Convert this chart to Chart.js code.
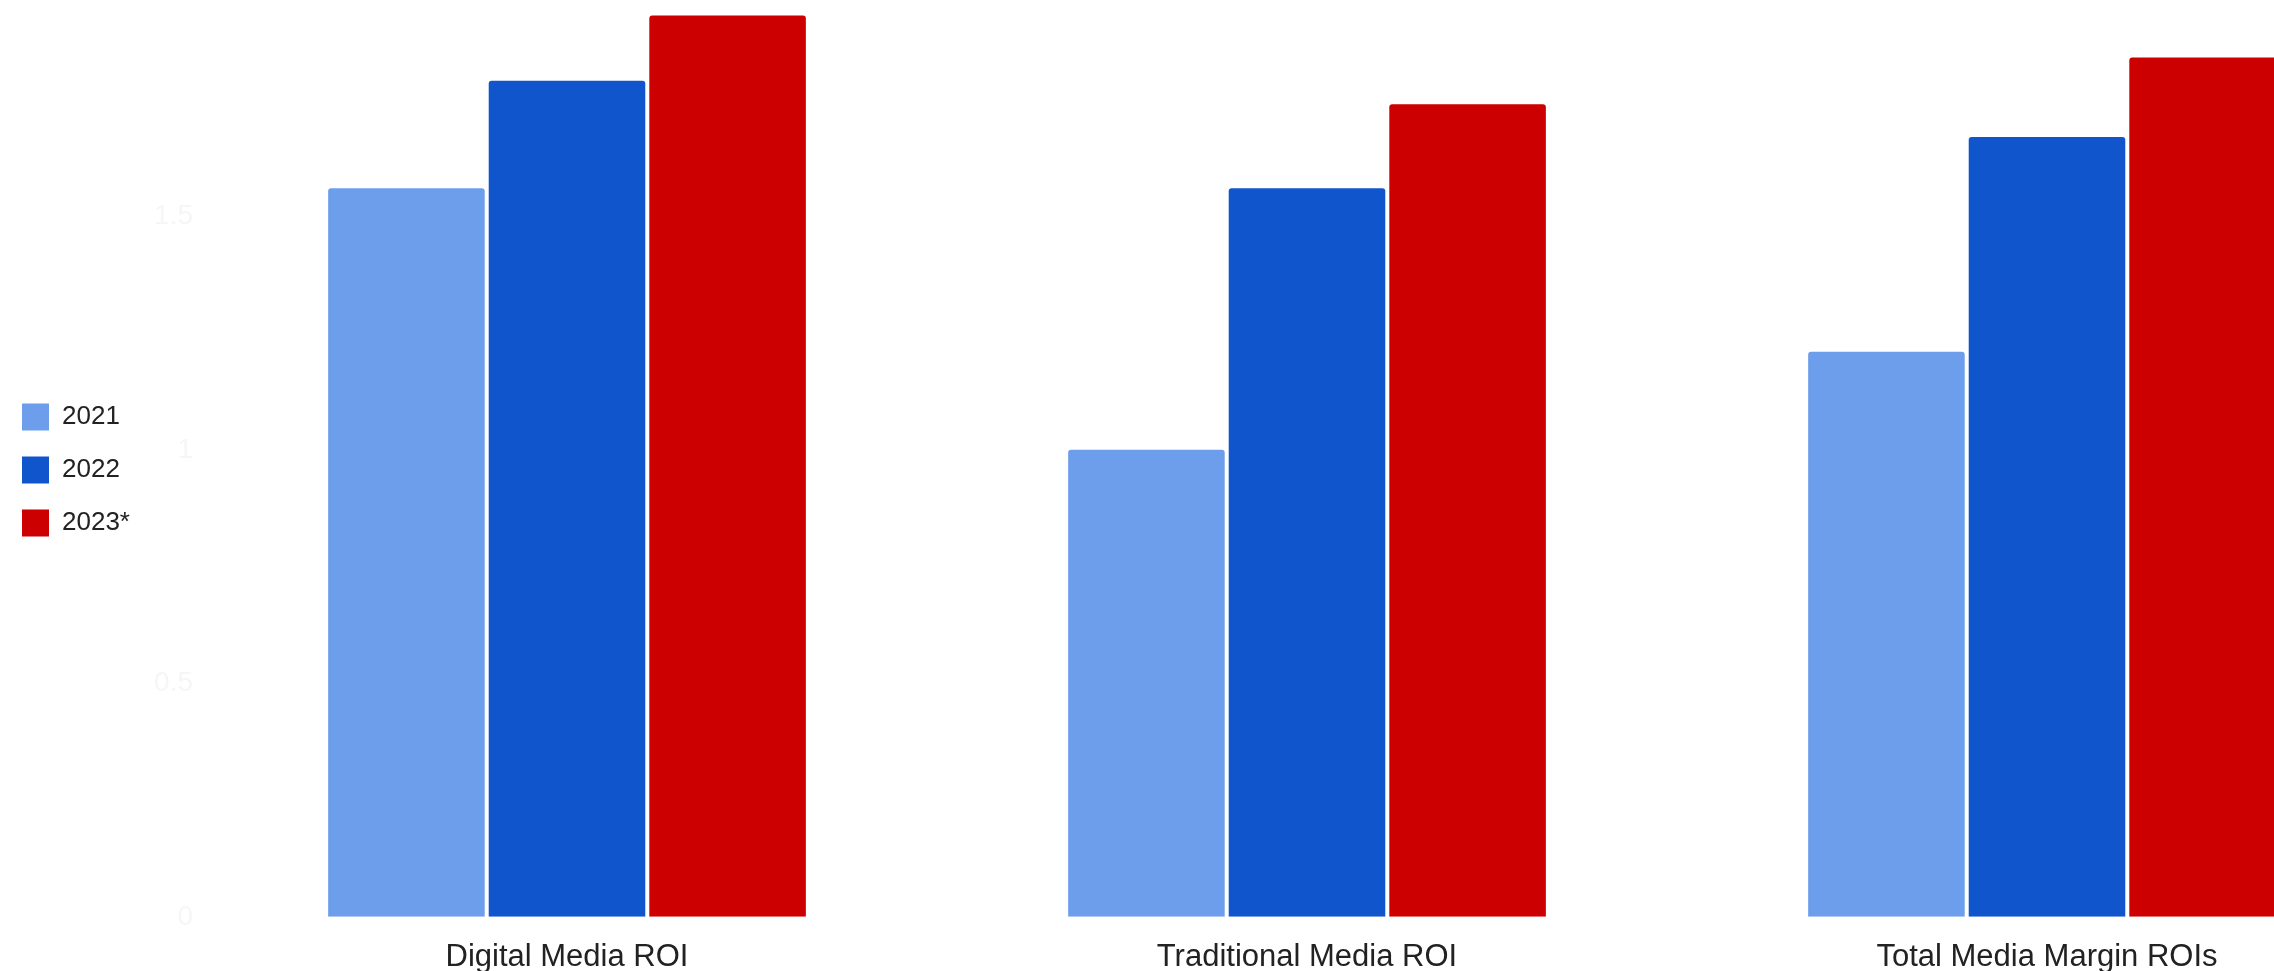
<!DOCTYPE html>
<html>
<head>
<meta charset="utf-8">
<title>Media ROI by Year</title>
<script src="https://cdn.jsdelivr.net/npm/chart.js@4.4.1/dist/chart.umd.min.js"></script>
<style>
  html, body { margin: 0; padding: 0; background: #ffffff; overflow: hidden; width: 2274px; height: 971px; }
  #wrap { position: absolute; left: 0; top: -38px; width: 2417px; height: 1036px; }
</style>
</head>
<body>
<div id="wrap"><canvas id="roi" width="2417" height="1036"></canvas></div>
<script>
// Categories and yearly ROI values
const categories = ['Digital Media ROI', 'Traditional Media ROI', 'Total Media Margin ROIs'];
const years = ['2021', '2022', '2023*'];
const roi2021 = [1.56, 1.00, 1.21];
const roi2022 = [1.79, 1.56, 1.67];
const roi2023 = [1.93, 1.74, 1.84];
const yTicks = [0, 0.5, 1, 1.5, 2];

const colors = ['#6d9eeb', '#1155cc', '#cc0000'];
const seriesValues = [roi2021, roi2022, roi2023];

const datasets = years.map((year, i) => ({
  label: year,
  data: seriesValues[i],
  backgroundColor: colors[i],
  borderRadius: 3,
  borderSkipped: 'start',
  categoryPercentage: 0.651,
  barPercentage: 0.975
}));

const font = 'Arial, "Liberation Sans", sans-serif';
const padLeft = -4;

new Chart(document.getElementById('roi'), {
  type: 'bar',
  data: { labels: categories, datasets },
  options: {
    responsive: false,
    animation: false,
    devicePixelRatio: 1,
    layout: { padding: { top: 20.5, right: 0, bottom: 0, left: padLeft } },
    plugins: {
      legend: {
        position: 'left',
        align: 'start',
        // empty title used as a spacer above the legend entries
        title: { display: true, text: '', font: { size: 10 }, padding: { top: 383, bottom: 0 } },
        labels: {
          boxWidth: 27,
          boxHeight: 27,
          padding: 26,
          color: '#222222',
          font: { family: font, size: 26 }
        }
      },
      tooltip: { enabled: false }
    },
    scales: {
      x: {
        grid: { display: false, drawTicks: false },
        border: { display: false },
        ticks: {
          color: '#222222',
          padding: 22,
          maxRotation: 0,
          font: { family: font, size: 31 }
        }
      },
      y: {
        min: 0,
        max: 2,
        grid: { display: false, drawTicks: false },
        border: { display: false },
        afterBuildTicks: (scale) => { scale.ticks = yTicks.map(v => ({ value: v })); },
        afterFit: (scale) => {
          const legendWidth = scale.chart.legend ? scale.chart.legend.width : 0;
          scale.width = Math.max(10, 197 - padLeft - legendWidth);
        },
        ticks: {
          color: '#f6f6f6',
          padding: 4,
          font: { family: font, size: 28 },
          callback: (v) => String(v)
        }
      }
    }
  }
});
</script>
</body>
</html>
